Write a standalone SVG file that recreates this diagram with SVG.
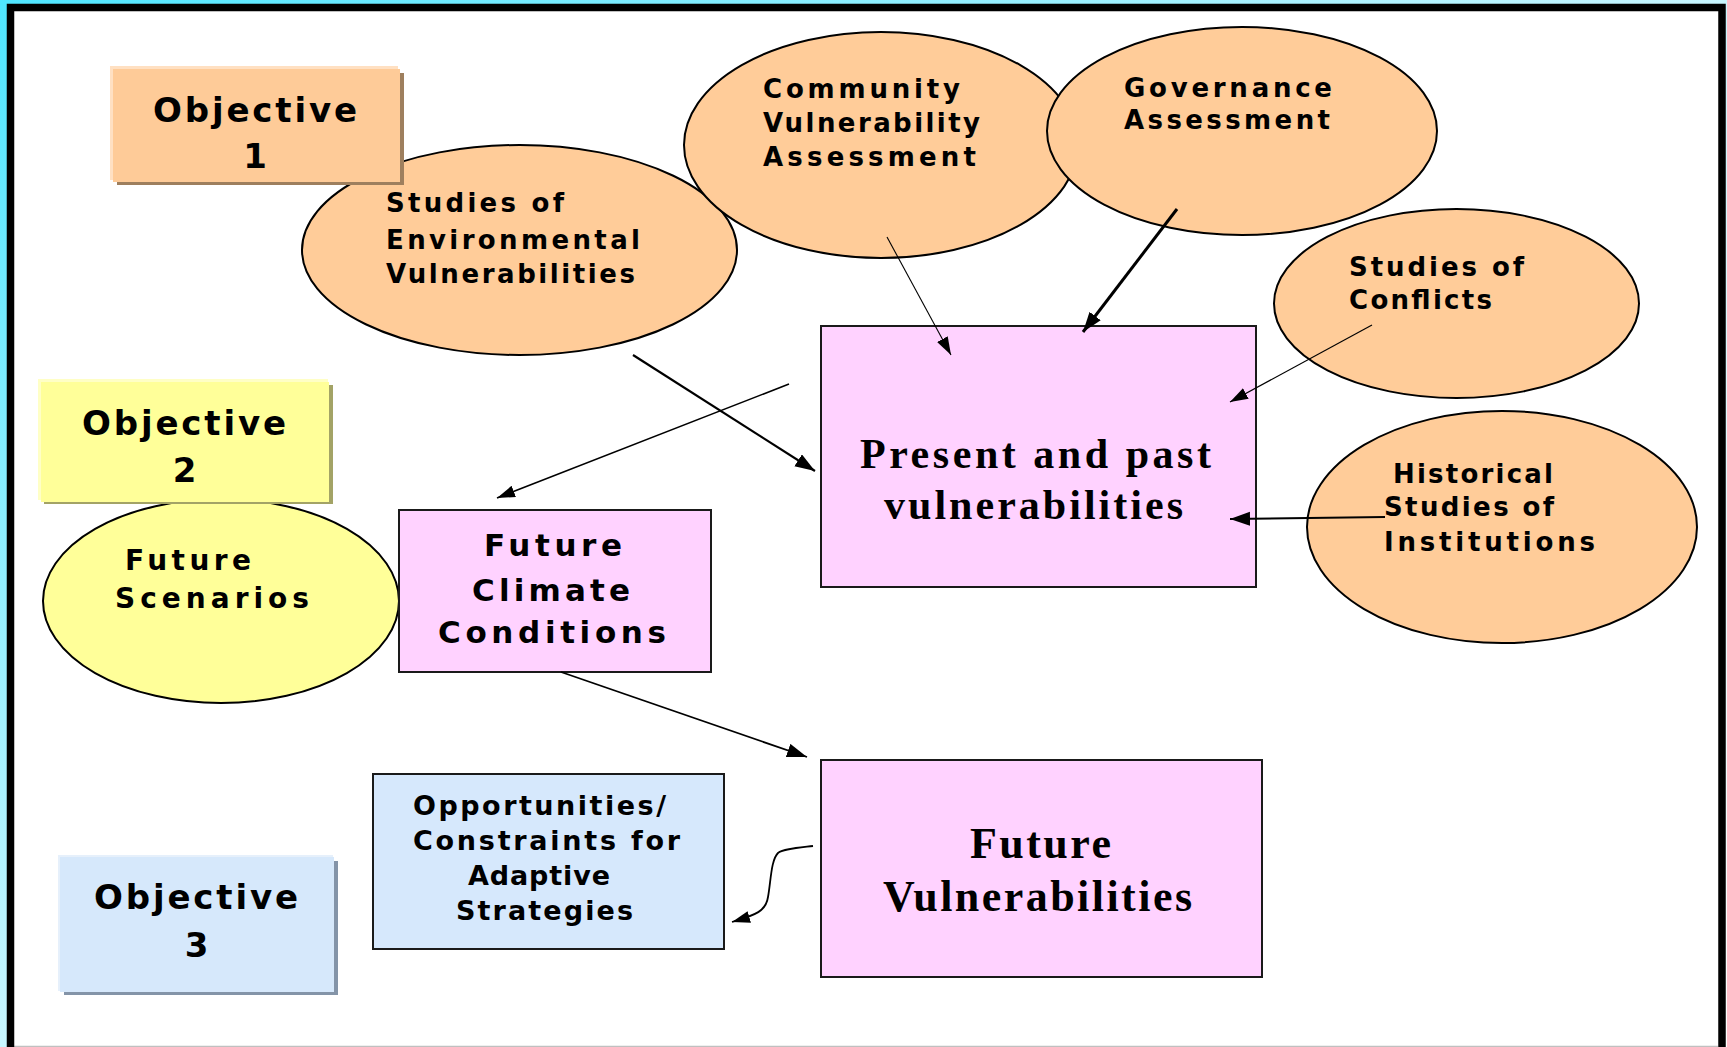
<svg xmlns="http://www.w3.org/2000/svg" width="1727" height="1047" viewBox="0 0 1727 1047">
<defs>
<linearGradient id="bg" x1="0" y1="0" x2="1" y2="1">
<stop offset="0" stop-color="#4fe6ff"/>
<stop offset="0.5" stop-color="#c8f6ff"/>
<stop offset="1" stop-color="#ffffff"/>
</linearGradient>
<marker id="ah" markerUnits="userSpaceOnUse" markerWidth="22" markerHeight="16" refX="20" refY="7" orient="auto">
<path d="M0,0 L20,7 L0,14 z" fill="#000"/>
</marker>
<marker id="ahs" markerUnits="userSpaceOnUse" markerWidth="20" markerHeight="14" refX="18" refY="6" orient="auto">
<path d="M0,0 L18,6 L0,12 z" fill="#000"/>
</marker>
<style>
.peach{fill:#ffcc99;stroke:#000;stroke-width:2}
.pink{fill:#ffd2ff;stroke:#1a1a1a;stroke-width:2}
.yel{fill:#ffff99;stroke:#000;stroke-width:2}
.blue{fill:#d6e8fc;stroke:#1a1a1a;stroke-width:2}
.s{font-family:"DejaVu Sans","Verdana",sans-serif;font-weight:bold;font-size:26px;fill:#000}
.s27{font-size:27px}
.s28{font-size:28px}
.s31{font-size:31px}
.obj{font-family:"DejaVu Sans","Verdana",sans-serif;font-weight:bold;font-size:34px;fill:#000}
.sf{font-family:"Liberation Serif","Times New Roman",serif;font-weight:bold;fill:#000}
.ln{fill:none;stroke:#000}
</style>
</defs>

<rect x="0" y="0" width="1727" height="1047" fill="url(#bg)"/>
<rect x="10" y="7" width="1712" height="1040" fill="#ffffff"/>
<line x1="14" y1="1046.5" x2="1718" y2="1046.5" stroke="#c0c0c0" stroke-width="1.5"/>
<path d="M10.5,1047 V7.5 H1722 V1047" fill="none" stroke="#000" stroke-width="7.5" stroke-linejoin="miter"/>

<g id="node-env">
<ellipse class="peach" cx="519.5" cy="250" rx="217.5" ry="105"/>
<text class="s" x="386" y="212" textLength="178" lengthAdjust="spacing">Studies of</text>
<text class="s" x="386" y="249" textLength="254" lengthAdjust="spacing">Environmental</text>
<text class="s" x="386" y="283" textLength="249" lengthAdjust="spacing">Vulnerabilities</text>
</g>

<g id="node-objective1">
<rect x="117" y="73" width="287" height="112" fill="#9e7f5e"/>
<rect x="110" y="66" width="288" height="114" fill="#ffe0c2"/>
<rect x="113" y="69" width="287" height="113" fill="#fecb98"/>
<text class="obj" x="153" y="122" textLength="204" lengthAdjust="spacing">Objective</text>
<text class="obj" x="255" y="168" text-anchor="middle">1</text>
</g>

<g id="node-community">
<ellipse class="peach" cx="881" cy="145" rx="197" ry="113"/>
<text class="s" x="763" y="98" textLength="197" lengthAdjust="spacing">Community</text>
<text class="s" x="763" y="132" textLength="217" lengthAdjust="spacing">Vulnerability</text>
<text class="s" x="763" y="166" textLength="213" lengthAdjust="spacing">Assessment</text>
</g>

<g id="node-governance">
<ellipse class="peach" cx="1242" cy="131" rx="195" ry="104"/>
<text class="s" x="1124" y="97" textLength="208" lengthAdjust="spacing">Governance</text>
<text class="s" x="1124" y="129" textLength="206" lengthAdjust="spacing">Assessment</text>
</g>

<g id="node-conflicts">
<ellipse class="peach" cx="1456.5" cy="303.5" rx="182.5" ry="94.5"/>
<text class="s" x="1349" y="276" textLength="175" lengthAdjust="spacing">Studies of</text>
<text class="s" x="1349" y="309" textLength="143" lengthAdjust="spacing">Conflicts</text>
</g>

<g id="node-historical">
<ellipse class="peach" cx="1502" cy="527" rx="195" ry="116"/>
<text class="s" x="1393" y="483" textLength="160" lengthAdjust="spacing">Historical</text>
<text class="s" x="1384" y="516" textLength="170" lengthAdjust="spacing">Studies of</text>
<text class="s" x="1384" y="551" textLength="211" lengthAdjust="spacing">Institutions</text>
</g>

<g id="node-present">
<rect class="pink" x="821" y="326" width="435" height="261"/>
<text class="sf" font-size="42" x="860" y="468" textLength="351" lengthAdjust="spacing">Present and past</text>
<text class="sf" font-size="42" x="884" y="519" textLength="299" lengthAdjust="spacing">vulnerabilities</text>
</g>

<g id="node-future-scenarios">
<ellipse class="yel" cx="221" cy="601" rx="178" ry="102"/>
<text class="s s28" x="125" y="570" textLength="126" lengthAdjust="spacing">Future</text>
<text class="s s28" x="115" y="608" textLength="194" lengthAdjust="spacing">Scenarios</text>
</g>

<g id="node-objective2">
<rect x="44" y="385" width="289" height="119" fill="#a3a366"/>
<rect x="38" y="379" width="290" height="121" fill="#ffffc6"/>
<rect x="41" y="382" width="288" height="120" fill="#ffff99"/>
<text class="obj" x="82" y="435" textLength="204" lengthAdjust="spacing">Objective</text>
<text class="obj" x="184.5" y="482" text-anchor="middle">2</text>
</g>

<g id="node-climate">
<rect class="pink" x="399" y="510" width="312" height="162"/>
<text class="s s31" x="484" y="556" textLength="138" lengthAdjust="spacing">Future</text>
<text class="s s31" x="472" y="601" textLength="158" lengthAdjust="spacing">Climate</text>
<text class="s s31" x="438" y="643" textLength="228" lengthAdjust="spacing">Conditions</text>
</g>

<g id="node-opportunities">
<rect class="blue" x="373" y="774" width="351" height="175"/>
<text class="s s27" x="413" y="815" textLength="253" lengthAdjust="spacing">Opportunities/</text>
<text class="s s27" x="413" y="850" textLength="267" lengthAdjust="spacing">Constraints for</text>
<text class="s s27" x="468" y="885" textLength="142" lengthAdjust="spacing">Adaptive</text>
<text class="s s27" x="456" y="920" textLength="177" lengthAdjust="spacing">Strategies</text>
</g>

<g id="node-objective3">
<rect x="64" y="861" width="274" height="134" fill="#8494a8"/>
<rect x="58" y="855" width="275" height="136" fill="#e6f0fb"/>
<rect x="60" y="857" width="274" height="135" fill="#d6e8fb"/>
<text class="obj" x="94" y="909" textLength="204" lengthAdjust="spacing">Objective</text>
<text class="obj" x="196.5" y="957" text-anchor="middle">3</text>
</g>

<g id="node-future-vuln">
<rect class="pink" x="821" y="760" width="441" height="217"/>
<text class="sf" font-size="44" x="970" y="858" textLength="141" lengthAdjust="spacing">Future</text>
<text class="sf" font-size="44" x="883" y="911" textLength="309" lengthAdjust="spacing">Vulnerabilities</text>
</g>

<g id="connectors">
<path class="ln" d="M633,355 L815,471" stroke-width="2.2" marker-end="url(#ah)"/>
<path class="ln" d="M789,384 L497,498" stroke-width="1.6" marker-end="url(#ahs)"/>
<path class="ln" d="M887,237 L951,355" stroke-width="1.1" marker-end="url(#ahs)"/>
<path class="ln" d="M1177,209 L1083,332" stroke-width="3" marker-end="url(#ah)"/>
<path class="ln" d="M1372,325 L1230,402" stroke-width="1.2" marker-end="url(#ahs)"/>
<path class="ln" d="M1385,517 L1230,519" stroke-width="2" marker-end="url(#ah)"/>
<path class="ln" d="M561,672 L807,757" stroke-width="1.8" marker-end="url(#ah)"/>
<path class="ln" d="M813,846 C796,848 783,849 778,853 C771,860 771,880 768,897 C766,911 756,915 732,922" stroke-width="1.8" marker-end="url(#ahs)"/>
</g>
</svg>
